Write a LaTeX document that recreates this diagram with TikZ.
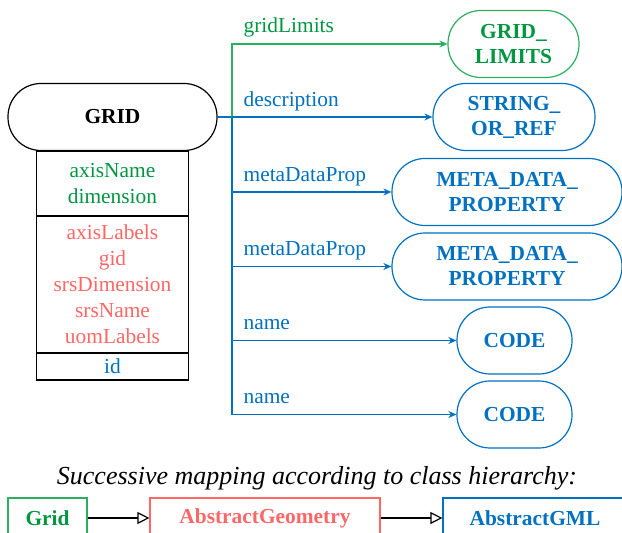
\documentclass[tikz,border=0pt]{standalone}
\usepackage{fontspec}
\setmainfont{Liberation Serif}
\usetikzlibrary{positioning,arrows.meta}
\definecolor{gmlgreen}{RGB}{0,150,64}
\definecolor{gmlgreenline}{RGB}{40,175,95}
\definecolor{gmlblue}{RGB}{0,112,192}
\definecolor{gmlred}{RGB}{255,102,102}

\begin{document}
\begin{tikzpicture}[x=0.5pt,y=-0.5pt,line width=0.6pt,
    every node/.style={font=\fontsize{10.7}{13}\selectfont},
    cls/.style={draw,rounded corners=16.5pt,align=center,inner sep=0pt,
      minimum height=33.5pt,font=\fontsize{10.7}{12.5}\selectfont\bfseries},
    att/.style={draw,minimum width=76pt,align=center,inner sep=0pt,outer sep=0pt},
    lbl/.style={anchor=base west,inner sep=0pt},
    rel/.style={-{Stealth[length=4pt,width=3.5pt]}},
    inh/.style={-{Triangle[open,length=6pt,width=6pt]}},
    parentbox/.style={draw,minimum height=20pt,inner sep=0pt,
      font=\fontsize{10.7}{13}\selectfont\bfseries}]
        \useasboundingbox (0,0) rectangle (622,533);
        \clip (0,0) rectangle (622,533);
        % the class and its attributes
        \node[cls,minimum width=104.5pt] (grid) at (112.5,117) {GRID};
        \node[att,below=0pt of grid,minimum height=32.5pt,text=gmlgreen] (attA) {axisName\\dimension};
        \node[att,below=0pt of attA,minimum height=68.5pt,text=gmlred] (attB) {axisLabels\\gid\\srsDimension\\srsName\\uomLabels};
        \node[att,below=0pt of attB,minimum height=13.5pt,text=gmlblue] (attC) {id};
        % referenced types
        \node[cls,draw=gmlgreenline,text=gmlgreen,minimum width=65.5pt] (glim) at (513.5,44) {GRID\_\\LIMITS};
        \node[cls,draw=gmlblue,text=gmlblue,minimum width=81pt] (sref) at (514,117) {STRING\_\\OR\_REF};
        \node[cls,draw=gmlblue,text=gmlblue,minimum width=115pt] (mdp1) at (507,192) {META\_DATA\_\\PROPERTY};
        \node[cls,draw=gmlblue,text=gmlblue,minimum width=115pt] (mdp2) at (507,266.5) {META\_DATA\_\\PROPERTY};
        \node[cls,draw=gmlblue,text=gmlblue,minimum width=57.5pt] (code1) at (514.5,340.5) {CODE};
        \node[cls,draw=gmlblue,text=gmlblue,minimum width=57.5pt] (code2) at (514.5,414.5) {CODE};
        \coordinate (trunk) at (232,117);
        \draw[gmlblue] (grid.east) -- (trunk);
        \draw[rel,gmlgreenline] (trunk) |- (glim.west);
        \draw[rel,gmlblue] (trunk) -- (sref.west);
        \foreach \t in {mdp1,mdp2,code1,code2}
            \draw[rel,gmlblue] (trunk) |- (\t.west);
        \node[lbl,text=gmlgreen] (lglim) at (243,33) {gridLimits};
        \node[lbl,text=gmlblue] (lsref) at (243,107) {description};
        \node[lbl,text=gmlblue] (lmdp1) at (243,182) {metaDataProp};
        \node[lbl,text=gmlblue] (lmdp2) at (243,256) {metaDataProp};
        \node[lbl,text=gmlblue] (lcode1) at (243,330) {name};
        \node[lbl,text=gmlblue] (lcode2) at (243,404) {name};
        % class hierarchy
        \node[font=\fontsize{13}{15}\selectfont\itshape] (capt) at (317,478) {Successive mapping according to class hierarchy:};
        \node[parentbox,draw=gmlgreenline,text=gmlgreen,minimum width=39.5pt] (pgrid) at (47.5,518) {Grid};
        \node[parentbox,draw=gmlred,text=gmlred,minimum width=115pt] (pgeom) at (265,518) {AbstractGeometry};
        \node[parentbox,draw=gmlblue,text=gmlblue,minimum width=92pt] (pgml) at (535,518) {AbstractGML};
        \draw[inh] (pgrid) -- (pgeom);
        \draw[inh] (pgeom) -- (pgml);
\end{tikzpicture}
\end{document}
